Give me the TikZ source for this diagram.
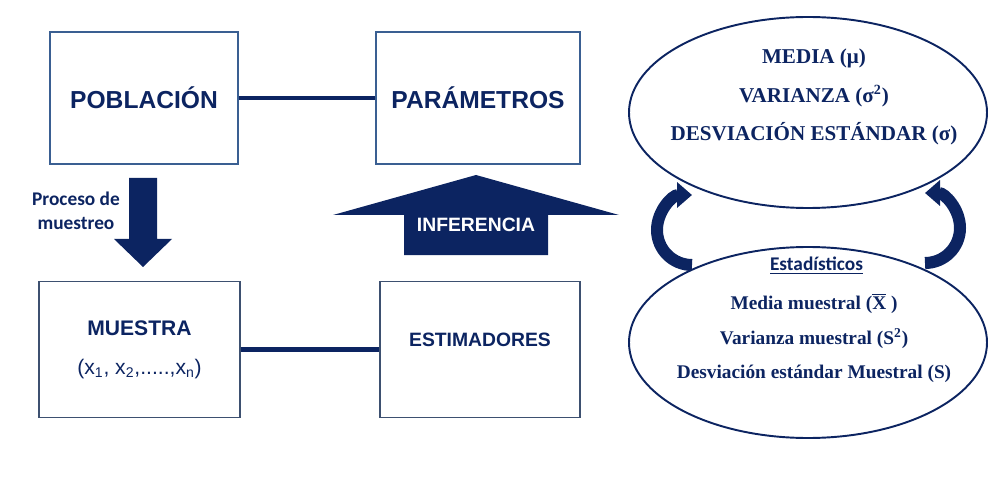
\documentclass[tikz,border=0pt]{standalone}
\usepackage{fontspec}
\setmainfont{Liberation Serif}
\newfontfamily\arialfont{Liberation Sans}
\newfontfamily\calibrifont{Carlito}
\usetikzlibrary{positioning,arrows.meta,shapes.geometric}
\definecolor{navy}{HTML}{0C2461}
\definecolor{frame}{HTML}{3A5F92}
\definecolor{slate}{HTML}{3D5070}

\begin{document}
\begin{tikzpicture}[
  every node/.style={text=navy},
  box/.style={draw=frame,line width=0.7pt,minimum width=4cm,minimum height=2.64cm,font=\arialfont\bfseries\fontsize{14}{17}\selectfont},
  oval/.style={ellipse,draw=navy,line width=1.1pt,minimum width=7.16cm,minimum height=3.82cm},
  link/.style={navy,line width=2.8pt},
  turn/.style={navy,line width=0.24cm,-{Triangle[length=0.3cm,width=0.5cm]}}]
  \useasboundingbox (0,0) rectangle (20,9.52);
  % boxes
  \node[box,minimum width=3.76cm] (pob) at (2.88,7.56) {POBLACIÓN};
  \node[box,minimum width=4.08cm] (par) at (9.56,7.56) {PARÁMETROS};
  \node[box,draw=slate,minimum width=4.02cm,minimum height=2.72cm,align=center,font=\arialfont\bfseries\fontsize{12}{22}\selectfont] (mue) at (2.79,2.53) {MUESTRA\\{\mdseries (x\textsubscript{1}, x\textsubscript{2},.....,x\textsubscript{n})}};
  \node[box,draw=slate,minimum width=4cm,minimum height=2.72cm] (est) at (9.60,2.53) {};
  \node[font=\arialfont\bfseries\fontsize{11}{13}\selectfont] (esttxt) at ([yshift=0.2cm]est.center) {ESTIMADORES};
  \draw[link] (pob) -- (par);
  \draw[link] (mue) -- (est);
  % block arrows
  \fill[navy] (2.58,5.96) -- (3.14,5.96) -- (3.14,4.74) -- (3.44,4.74) -- (2.86,4.18) -- (2.28,4.74) -- (2.58,4.74) -- cycle;
  \node[font=\calibrifont\bfseries\fontsize{11}{13.6}\selectfont,align=center] (proc) at (1.52,5.30) {Proceso de\\muestreo};
  \fill[navy] (8.08,4.42) -- (8.08,5.22) -- (6.66,5.22) -- (9.52,6.02) -- (12.38,5.22) -- (10.96,5.22) -- (10.96,4.42) -- cycle;
  \node[text=white,font=\arialfont\bfseries\fontsize{11}{13}\selectfont] (inf) at (9.52,5.03) {INFERENCIA};
  % ellipses
  \node[oval] (param) at (16.16,7.27) {};
  \node[font=\bfseries\fontsize{12}{22}\selectfont,align=center] (paramtxt) at (16.28,7.58) {MEDIA (μ)\\VARIANZA (σ\textsuperscript{2})\\DESVIACIÓN ESTÁNDAR (σ)};
  \node[oval] (stat) at (16.16,2.67) {};
  \node[font=\calibrifont\bfseries\fontsize{11}{13}\selectfont] (stathead) at (16.33,4.20) {\underline{Estadísticos}};
  \node[font=\bfseries\fontsize{11}{19.4}\selectfont,align=center] (stattxt) at (16.28,2.76) {Media muestral (\(\overline{\hbox{X}}\) )\\Varianza muestral (S\textsuperscript{2})\\Desviación estándar Muestral (S)};
  % curved arrows
  \coordinate (lc) at (13.84,4.92);
  \coordinate (rc) at (18.50,4.96);
  \draw[turn] ([yshift=-0.7cm]lc) arc[start angle=270,end angle=90,radius=0.7cm];
  \draw[turn] ([yshift=-0.7cm]rc) arc[start angle=-90,end angle=90,radius=0.7cm];
\end{tikzpicture}
\end{document}
